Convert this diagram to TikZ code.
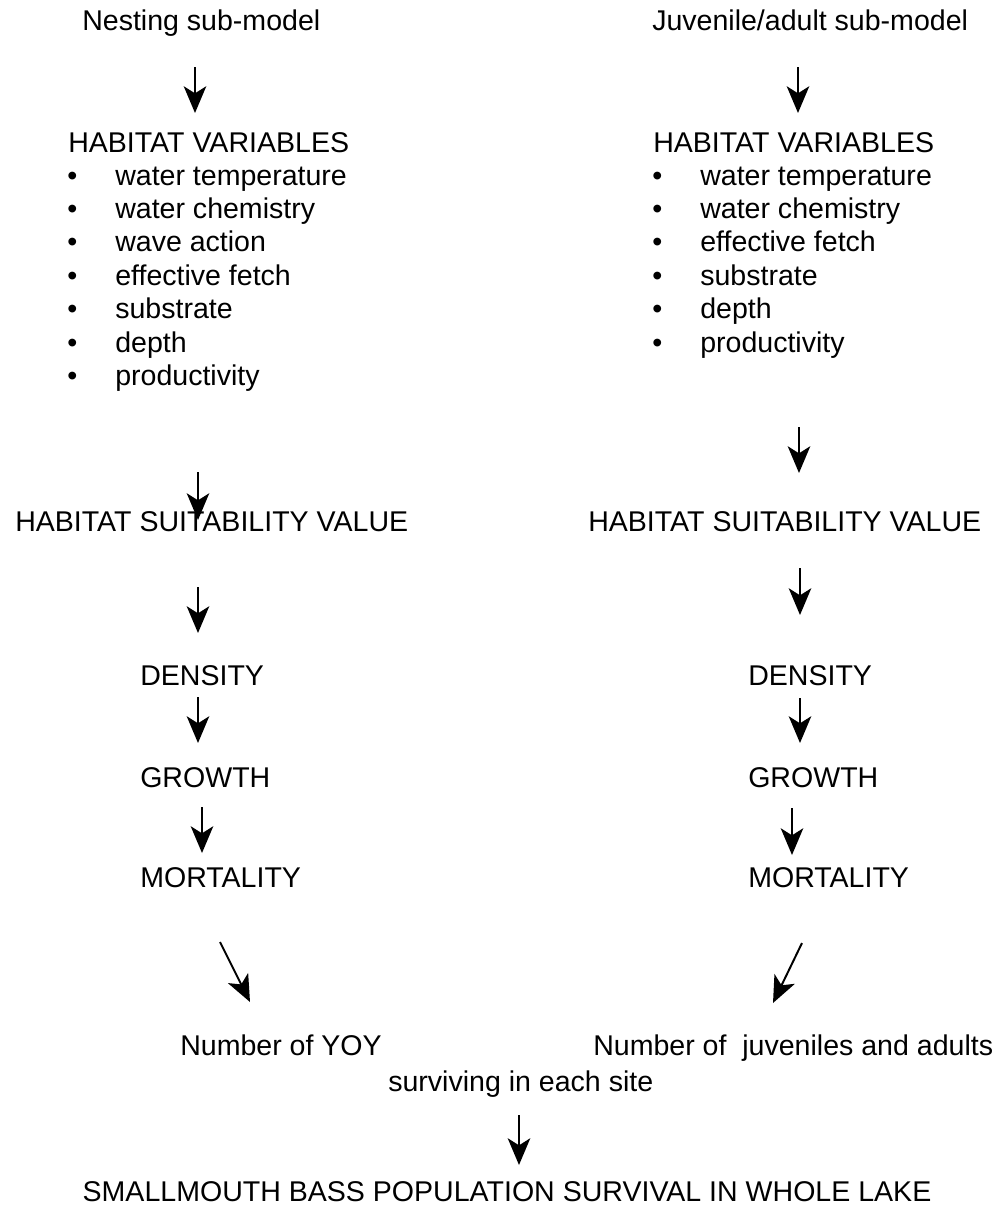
\documentclass[tikz,border=0pt]{standalone}
\usepackage{fontspec}
\setmainfont{Liberation Sans}
\usetikzlibrary{arrows.meta}

\tikzset{
    txt/.style={anchor=base west, inner sep=0pt, font=\fontsize{20.3}{24}\selectfont},
    arr/.style={line width=1.4pt, -{Stealth[length=19pt, width=16pt, inset=5pt]}}
}
\newcommand{\bul}{\makebox[0pt][r]{\textbullet\hspace{27pt}}}

\begin{document}
\begin{tikzpicture}[x=0.025cm, y=-0.025cm]
    \useasboundingbox (0,0) rectangle (1000,1211);

    % Nesting sub-model
    \node[txt] (nest) at (82,30) {Nesting sub-model};
    \node[txt] (hvL) at (68,152) {HABITAT VARIABLES};
    \node[txt] (itL1) at (115,185) {\bul water temperature};
    \node[txt] (itL2) at (115,218.4) {\bul water chemistry};
    \node[txt] (itL3) at (115,251.8) {\bul wave action};
    \node[txt] (itL4) at (115,285.2) {\bul effective fetch};
    \node[txt] (itL5) at (115,318.6) {\bul substrate};
    \node[txt] (itL6) at (115,352) {\bul depth};
    \node[txt] (itL7) at (115,385.4) {\bul productivity};
    \node[txt] (hsvL) at (15,531) {HABITAT SUITABILITY VALUE};
    \node[txt] (densL) at (140,685) {DENSITY};
    \node[txt] (growL) at (140,787) {GROWTH};
    \node[txt] (mortL) at (140,887) {MORTALITY};
    \node[txt] (yoy) at (180,1055) {Number of YOY};

    % Juvenile/adult sub-model
    \node[txt] (juv) at (652,30) {Juvenile/adult sub-model};
    \node[txt] (hvR) at (653,152) {HABITAT VARIABLES};
    \node[txt] (itR1) at (700,185) {\bul water temperature};
    \node[txt] (itR2) at (700,218.4) {\bul water chemistry};
    \node[txt] (itR3) at (700,251.8) {\bul effective fetch};
    \node[txt] (itR4) at (700,285.2) {\bul substrate};
    \node[txt] (itR5) at (700,318.6) {\bul depth};
    \node[txt] (itR6) at (700,352) {\bul productivity};
    \node[txt] (hsvR) at (588,531) {HABITAT SUITABILITY VALUE};
    \node[txt] (densR) at (748,685) {DENSITY};
    \node[txt] (growR) at (748,787) {GROWTH};
    \node[txt] (mortR) at (748,887) {MORTALITY};
    \node[txt] (juvN) at (593,1055) {Number of\ \ juveniles and adults};

    % whole lake
    \node[txt] (surv) at (388,1091) {surviving in each site};
    \node[txt, anchor=base] (lake) at (507,1201) {SMALLMOUTH BASS POPULATION SURVIVAL IN WHOLE LAKE};

    % left arrows
    \draw[arr] ([shift={(113,37)}]nest.base west) -- ([shift={(127,-39)}]hvL.base west);
    \draw[arr] ([shift={(83,87)}]itL7.base west) -- ([shift={(183,-11)}]hsvL.base west);
    \draw[arr] ([shift={(183,56)}]hsvL.base west) -- ([shift={(58,-52)}]densL.base west);
    \draw[arr] ([shift={(58,12)}]densL.base west) -- ([shift={(58,-44)}]growL.base west);
    \draw[arr] ([shift={(62,20)}]growL.base west) -- ([shift={(62,-34)}]mortL.base west);
    \draw[arr] ([shift={(80,55)}]mortL.base west) -- ([shift={(70,-53)}]yoy.base west);

    % right arrows
    \draw[arr] ([shift={(146,37)}]juv.base west) -- ([shift={(145,-39)}]hvR.base west);
    \draw[arr] ([shift={(99,75)}]itR6.base west) -- ([shift={(211,-58)}]hsvR.base west);
    \draw[arr] ([shift={(212,37)}]hsvR.base west) -- ([shift={(52,-70)}]densR.base west);
    \draw[arr] ([shift={(52,13)}]densR.base west) -- ([shift={(52,-44)}]growR.base west);
    \draw[arr] ([shift={(44,21)}]growR.base west) -- ([shift={(44,-32)}]mortR.base west);
    \draw[arr] ([shift={(54,56)}]mortR.base west) -- ([shift={(180,-52)}]juvN.base west);

    % to whole lake
    \draw[arr] ([shift={(131,24)}]surv.base west) -- ([shift={(12,-36)}]lake.base);
\end{tikzpicture}
\end{document}
